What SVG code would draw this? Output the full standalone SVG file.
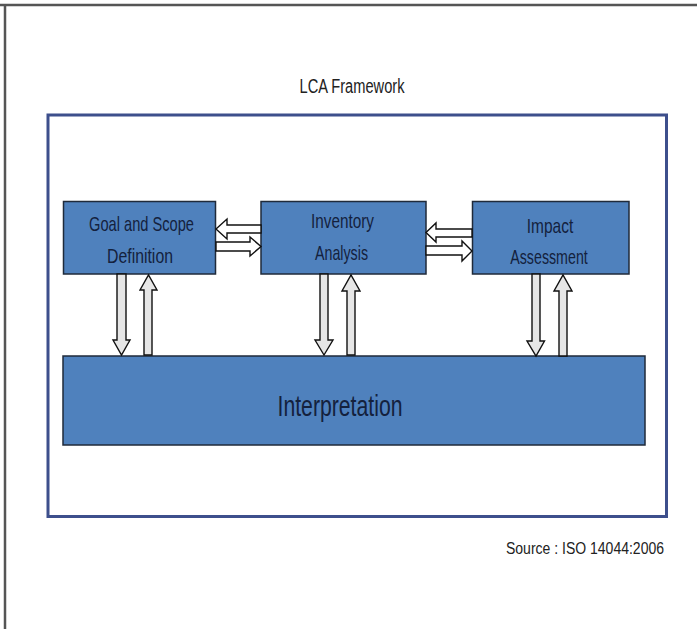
<svg xmlns="http://www.w3.org/2000/svg" width="697" height="629" viewBox="0 0 697 629">
<style>
.box{fill:#4f81bd;stroke:#1f2a3a;stroke-width:1.5}
.lbl{font-family:"Liberation Sans",Arial,sans-serif;fill:#14213d;text-anchor:middle}
.arr{fill:#ffffff;stroke:#111;stroke-width:1.4;stroke-linejoin:miter}
.varr{fill:#e6e6e6;stroke:#111;stroke-width:1.4;stroke-linejoin:miter}
.txt{font-family:"Liberation Sans",Arial,sans-serif;fill:#222}
</style>
<rect width="697" height="629" fill="#ffffff"/>
<path d="M0 5H697M5 5V629" stroke="#555" stroke-width="2.5" fill="none"/>
<text class="txt" x="352" y="93" font-size="20" text-anchor="middle" textLength="105" lengthAdjust="spacingAndGlyphs">LCA Framework</text>
<rect id="frame" x="48" y="115" width="618.5" height="401.5" fill="none" stroke="#3d4f8c" stroke-width="3"/>
<g id="goal">
<rect class="box" x="63.5" y="201.5" width="152" height="72.5"/>
<text class="lbl" x="141.5" y="230.5" font-size="21" textLength="105" lengthAdjust="spacingAndGlyphs">Goal and Scope</text>
<text class="lbl" x="140" y="262.5" font-size="21" textLength="66" lengthAdjust="spacingAndGlyphs">Definition</text>
</g>
<g id="inventory">
<rect class="box" x="261" y="201.5" width="165" height="72.5"/>
<text class="lbl" x="342.5" y="227.5" font-size="21" textLength="63" lengthAdjust="spacingAndGlyphs">Inventory</text>
<text class="lbl" x="341.5" y="260" font-size="21" textLength="53" lengthAdjust="spacingAndGlyphs">Analysis</text>
</g>
<g id="impact">
<rect class="box" x="472.5" y="201.5" width="156.5" height="72.5"/>
<text class="lbl" x="550" y="232.5" font-size="21" textLength="46.5" lengthAdjust="spacingAndGlyphs">Impact</text>
<text class="lbl" x="549" y="264" font-size="21" textLength="77.5" lengthAdjust="spacingAndGlyphs">Assessment</text>
</g>
<g id="interpretation">
<rect class="box" x="63" y="356" width="582" height="89"/>
<text class="lbl" x="340" y="416" font-size="30" textLength="125" lengthAdjust="spacingAndGlyphs">Interpretation</text>
</g>
<g id="connectors">
<polygon class="arr" points="216,229 227,219 227,225 261,225 261,233 227,233 227,239"/>
<polygon class="arr" points="216,242 250,242 250,237 261,246.5 250,256 250,251 216,251"/>
<polygon class="arr" points="426,232.5 436,223 436,229 472,229 472,237 436,237 436,242"/>
<polygon class="arr" points="426,246 462,246 462,241 472,251 462,261 462,255 426,255"/>
<polygon class="varr" points="117,274 126,274 126,340 130,340 121.5,355 113,340 117,340"/>
<polygon class="varr" points="144,355 152,355 152,290 157,290 148.5,275 140,290 144,290"/>
<polygon class="varr" points="320,274 328,274 328,340 333,340 324,355 315,340 320,340"/>
<polygon class="varr" points="347,355 355,355 355,291 360,291 351,275 342,291 347,291"/>
<polygon class="varr" points="532,274 540,274 540,341 544.5,341 536,356 527,341 532,341"/>
<polygon class="varr" points="559,356 567,356 567,291 572,291 563,275 554,291 559,291"/>
</g>
<text class="txt" x="506" y="554" font-size="16" textLength="158" lengthAdjust="spacingAndGlyphs">Source : ISO 14044:2006</text>
</svg>
